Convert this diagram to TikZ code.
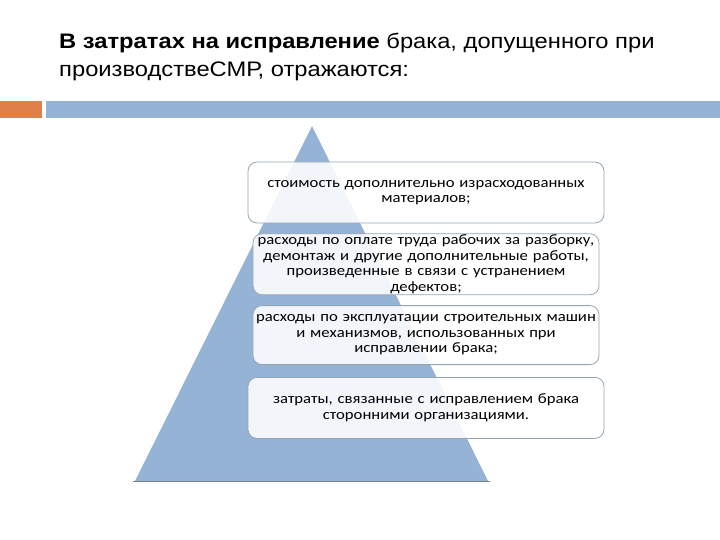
\documentclass[tikz,border=0pt]{standalone}
\usepackage{fontspec}
\setmainfont{Liberation Sans}[FakeStretch=1.13]
\newfontfamily\boxfont{Carlito}[FakeStretch=1.15]
\usepackage{xcolor}
\usepackage{tikz}
\usetikzlibrary{positioning}

\definecolor{barblue}{RGB}{149,179,213}
\definecolor{barorange}{RGB}{222,128,72}
\definecolor{boxline}{RGB}{150,165,180}

\begin{document}
\begin{tikzpicture}[
  x=1pt, y=-1pt,
  item/.style={draw=boxline, line width=0.8pt, fill=white, fill opacity=0.88, text opacity=1,
    rectangle, rounded corners=9pt, minimum width=346pt, minimum height=61pt,
    text width=352pt, align=center, inner xsep=0pt, inner ysep=1pt,
    font=\boxfont\fontsize{14.5}{15.5}\selectfont},
  title/.style={anchor=north west, align=left, inner sep=0pt, font=\fontsize{21}{28}\selectfont}
]
\useasboundingbox (0,0) rectangle (720,540);

% Title and bars
\node[title] (Title) at (59,33) {\textbf{В затратах на исправление} брака, допущенного при\\производствеСМР, отражаются:};
\fill[barorange] (0,101) rectangle (42,118);
\fill[barblue] (46,101) rectangle (720,118);

% Pyramid
\fill[barblue] (312,126) -- (488,481) -- (135,481) -- cycle;
\draw[gray, line width=0.8pt] (133,481.5) -- (490,481.5);

% Cost items
\node[item, text width=356pt] (Materials) at (426,192.5) {стоимость дополнительно израсходованных\\материалов;};
\node[item, below=10pt of Materials, text width=346pt] (Labour) {расходы по оплате труда рабочих за разборку,\\демонтаж и другие дополнительные работы,\\произведенные в связи с устранением\\дефектов;};
\node[item, below=10pt of Labour, text width=346pt, minimum height=59pt] (Machines) {расходы по эксплуатации строительных машин\\и механизмов, использованных при\\исправлении брака;};
\node[item, below=12pt of Machines, text width=356pt] (Contractors) {затраты, связанные с исправлением брака\\сторонними организациями.};

\end{tikzpicture}
\end{document}
